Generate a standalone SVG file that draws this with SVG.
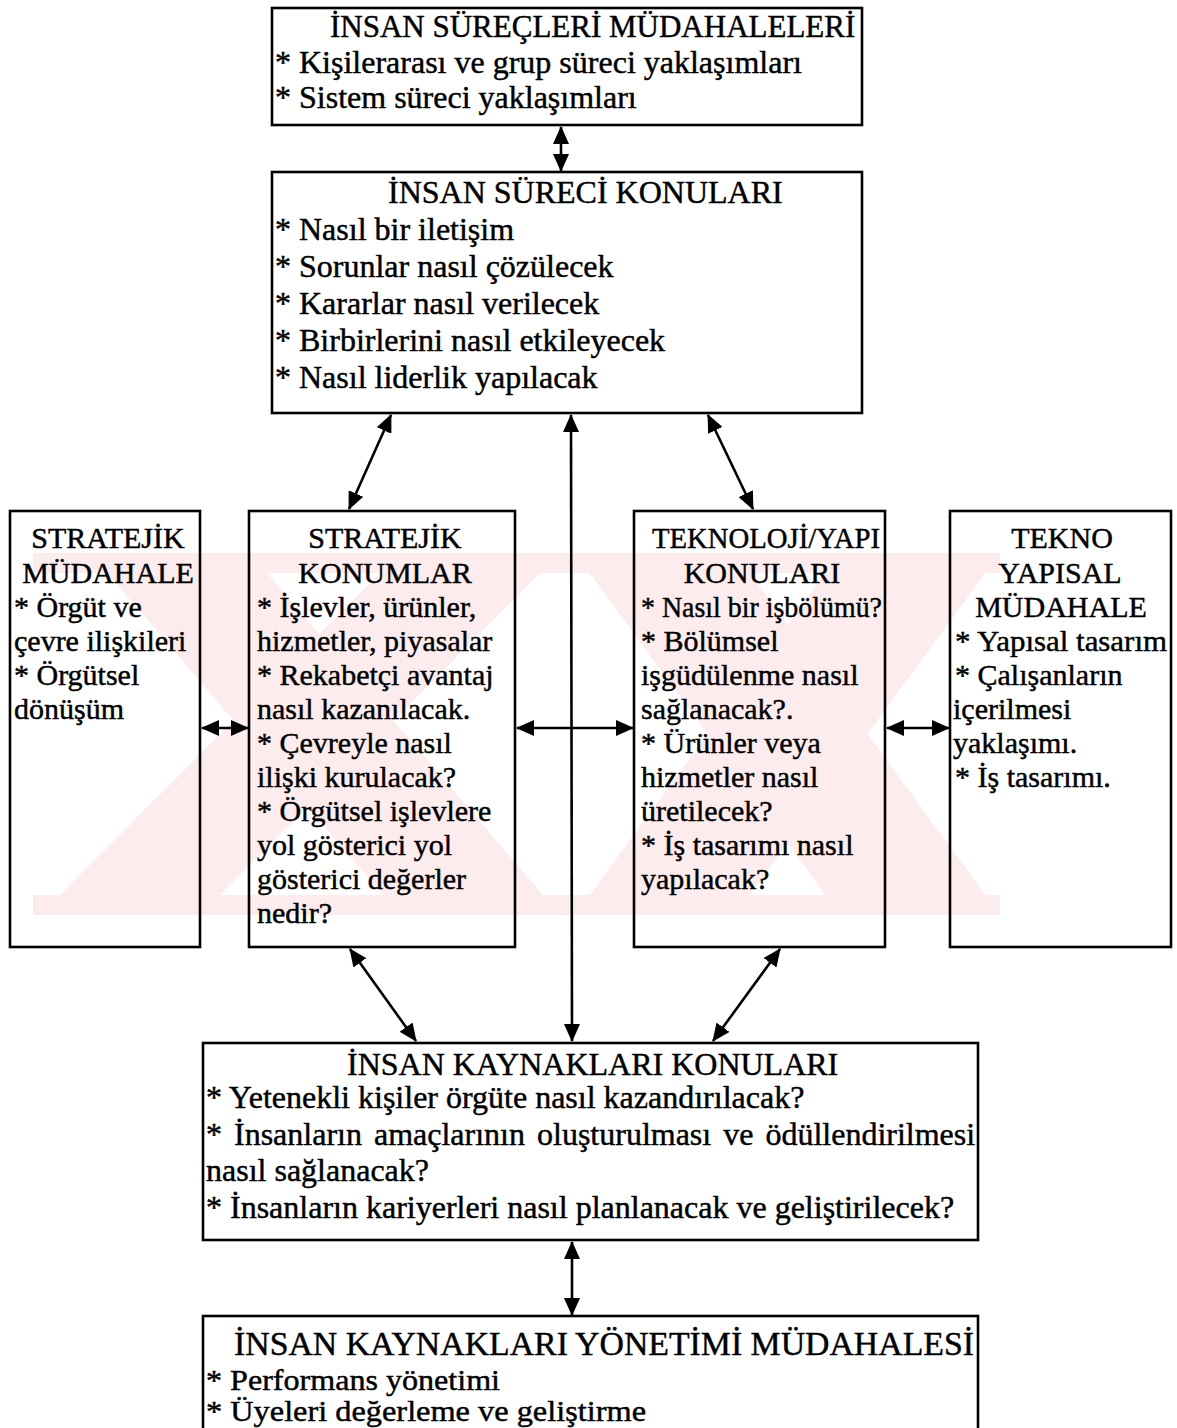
<svg xmlns="http://www.w3.org/2000/svg" width="1177" height="1428" viewBox="0 0 1177 1428">
  <defs>
    <style>
      .box{fill:none;stroke:#000;stroke-width:2.6}
      .txt{font-family:"Liberation Serif","Times New Roman",serif;fill:#000;stroke:#000;stroke-width:0.45}
      .t32{font-size:32px}
      .t30{font-size:30px}
      .mid{text-anchor:middle}
      .link{fill:none;stroke:#000;stroke-width:2.6;marker-start:url(#ah);marker-end:url(#ah)}
      .wm{fill:#fdecee}
    </style>
    <marker id="ah" viewBox="0 0 18 16" markerUnits="userSpaceOnUse" markerWidth="18" markerHeight="16" refX="17" refY="8" orient="auto-start-reverse">
      <path d="M0,0 L18,8 L0,16 z" fill="#000"/>
    </marker>
    <clipPath id="wm-clip">
      <rect x="33" y="553" width="967" height="362"/>
    </clipPath>
  </defs>

  <rect width="1177" height="1428" fill="#fff"/>

  <!-- faint crossed-band mark behind the middle row -->
  <g id="watermark" clip-path="url(#wm-clip)">
    <rect class="wm" x="33" y="553" width="967" height="20"/>
    <rect class="wm" x="33" y="895" width="967" height="20"/>
    <polygon class="wm" points="90,553 250,553 560,915 400,915"/>
    <polygon class="wm" points="400,553 560,553 200,915 40,915"/>
    <polygon class="wm" points="575,553 735,553 1000,915 840,915"/>
    <polygon class="wm" points="840,553 1000,553 735,915 575,915"/>
  </g>

  <!-- connectors -->
  <g id="connectors">
    <line class="link" x1="561" y1="127" x2="561" y2="171"/>
    <line class="link" x1="391" y1="415" x2="349" y2="509"/>
    <line class="link" x1="571" y1="415" x2="572" y2="1041"/>
    <line class="link" x1="708" y1="415" x2="753" y2="509"/>
    <line class="link" x1="202" y1="728" x2="248" y2="728"/>
    <line class="link" x1="517" y1="728" x2="633" y2="728"/>
    <line class="link" x1="887" y1="728" x2="949" y2="728"/>
    <line class="link" x1="350" y1="949" x2="416" y2="1041"/>
    <line class="link" x1="780" y1="949" x2="713" y2="1041"/>
    <line class="link" x1="572" y1="1242" x2="572" y2="1315"/>
  </g>

  <!-- İnsan süreçleri müdahaleleri -->
  <g id="node-insan-surecleri-mudahaleleri">
    <rect class="box" x="272" y="8" width="590" height="117"/>
    <text class="txt" font-size="31" x="330" y="37">İNSAN SÜREÇLERİ MÜDAHALELERİ</text>
    <text class="txt t32" x="275" y="73">* Kişilerarası ve grup süreci yaklaşımları</text>
    <text class="txt t32" x="275" y="108">* Sistem süreci yaklaşımları</text>
  </g>

  <!-- İnsan süreci konuları -->
  <g id="node-insan-sureci-konulari">
    <rect class="box" x="272" y="172" width="590" height="241"/>
    <text class="txt t32" x="388" y="203">İNSAN SÜRECİ KONULARI</text>
    <text class="txt t32" x="275" y="240">* Nasıl bir iletişim</text>
    <text class="txt t32" x="275" y="277">* Sorunlar nasıl çözülecek</text>
    <text class="txt t32" x="275" y="314">* Kararlar nasıl verilecek</text>
    <text class="txt t32" x="275" y="351">* Birbirlerini nasıl etkileyecek</text>
    <text class="txt t32" x="275" y="388">* Nasıl liderlik yapılacak</text>
  </g>

  <!-- Stratejik müdahale -->
  <g id="node-stratejik-mudahale">
    <rect class="box" x="10" y="511" width="190" height="436"/>
    <text class="txt t30 mid" x="108" y="548">STRATEJİK</text>
    <text class="txt t30 mid" x="108" y="583">MÜDAHALE</text>
    <text class="txt t30" x="14" y="617">* Örgüt ve</text>
    <text class="txt t30" x="14" y="651">çevre ilişkileri</text>
    <text class="txt t30" x="14" y="685">* Örgütsel</text>
    <text class="txt t30" x="14" y="719">dönüşüm</text>
  </g>

  <!-- Stratejik konumlar -->
  <g id="node-stratejik-konumlar">
    <rect class="box" x="249" y="511" width="266" height="436"/>
    <text class="txt t30 mid" x="385" y="548">STRATEJİK</text>
    <text class="txt t30 mid" x="385" y="583">KONUMLAR</text>
    <text class="txt t30" x="257" y="617">* İşlevler, ürünler,</text>
    <text class="txt t30" x="257" y="651">hizmetler, piyasalar</text>
    <text class="txt t30" x="257" y="685">* Rekabetçi avantaj</text>
    <text class="txt t30" x="257" y="719">nasıl kazanılacak.</text>
    <text class="txt t30" x="257" y="753">* Çevreyle nasıl</text>
    <text class="txt t30" x="257" y="787">ilişki kurulacak?</text>
    <text class="txt t30" x="257" y="821">* Örgütsel işlevlere</text>
    <text class="txt t30" x="257" y="855">yol gösterici yol</text>
    <text class="txt t30" x="257" y="889">gösterici değerler</text>
    <text class="txt t30" x="257" y="923">nedir?</text>
  </g>

  <!-- Teknoloji / yapı konuları -->
  <g id="node-teknoloji-yapi-konulari">
    <rect class="box" x="634" y="511" width="251" height="436"/>
    <text class="txt t30" x="652" y="548" textLength="228" lengthAdjust="spacingAndGlyphs">TEKNOLOJİ/YAPI</text>
    <text class="txt t30 mid" x="762" y="583">KONULARI</text>
    <text class="txt t30" x="641" y="617" textLength="241" lengthAdjust="spacingAndGlyphs">* Nasıl bir işbölümü?</text>
    <text class="txt t30" x="641" y="651">* Bölümsel</text>
    <text class="txt t30" x="641" y="685">işgüdülenme nasıl</text>
    <text class="txt t30" x="641" y="719">sağlanacak?.</text>
    <text class="txt t30" x="641" y="753">* Ürünler veya</text>
    <text class="txt t30" x="641" y="787">hizmetler nasıl</text>
    <text class="txt t30" x="641" y="821">üretilecek?</text>
    <text class="txt t30" x="641" y="855">* İş tasarımı nasıl</text>
    <text class="txt t30" x="641" y="889">yapılacak?</text>
  </g>

  <!-- Tekno yapısal müdahale -->
  <g id="node-tekno-yapisal-mudahale">
    <rect class="box" x="950" y="511" width="221" height="436"/>
    <text class="txt t30 mid" x="1062" y="548">TEKNO</text>
    <text class="txt t30 mid" x="1060" y="583">YAPISAL</text>
    <text class="txt t30 mid" x="1061" y="617">MÜDAHALE</text>
    <text class="txt t30" x="955" y="651" textLength="212" lengthAdjust="spacingAndGlyphs">* Yapısal tasarım</text>
    <text class="txt t30" x="955" y="685">* Çalışanların</text>
    <text class="txt t30" x="953" y="719">içerilmesi</text>
    <text class="txt t30" x="953" y="753">yaklaşımı.</text>
    <text class="txt t30" x="955" y="787">* İş tasarımı.</text>
  </g>

  <!-- İnsan kaynakları konuları -->
  <g id="node-insan-kaynaklari-konulari">
    <rect class="box" x="203" y="1043" width="775" height="197"/>
    <text class="txt t32" x="347" y="1075">İNSAN KAYNAKLARI KONULARI</text>
    <text class="txt t32" x="206" y="1108">* Yetenekli kişiler örgüte nasıl kazandırılacak?</text>
    <text class="txt t32" x="206" y="1145" word-spacing="4">* İnsanların amaçlarının oluşturulması ve ödüllendirilmesi</text>
    <text class="txt t32" x="206" y="1181">nasıl sağlanacak?</text>
    <text class="txt t32" x="206" y="1218">* İnsanların kariyerleri nasıl planlanacak ve geliştirilecek?</text>
  </g>

  <!-- İnsan kaynakları yönetimi müdahalesi (continues below the page edge) -->
  <g id="node-ik-yonetimi-mudahalesi">
    <rect class="box" x="203" y="1316" width="775" height="130"/>
    <text class="txt" font-size="33" x="234" y="1355" textLength="740" lengthAdjust="spacingAndGlyphs">İNSAN KAYNAKLARI YÖNETİMİ MÜDAHALESİ</text>
    <text class="txt" font-size="30" x="206" y="1390" textLength="294" lengthAdjust="spacingAndGlyphs">* Performans yönetimi</text>
    <text class="txt" font-size="30" x="206" y="1421" textLength="440" lengthAdjust="spacingAndGlyphs">* Üyeleri değerleme ve geliştirme</text>
  </g>
</svg>
